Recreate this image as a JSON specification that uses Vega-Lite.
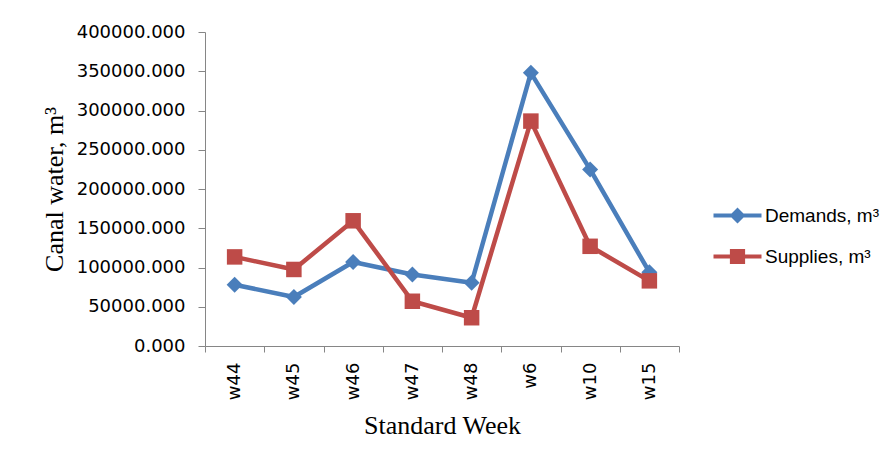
{
  "$schema": "https://vega.github.io/schema/vega-lite/v6.json",
  "width": 474,
  "height": 314,
  "autosize": {"type": "none"},
  "padding": {"left": 205, "top": 32, "right": 217, "bottom": 118},
  "background": "white",
  "config": {
    "view": {"stroke": null},
    "font": "DejaVu Sans"
  },
  "data": {
    "values": [
      {"week": "w44", "series": "Demands, m³", "value": 78000},
      {"week": "w45", "series": "Demands, m³", "value": 62500},
      {"week": "w46", "series": "Demands, m³", "value": 107000},
      {"week": "w47", "series": "Demands, m³", "value": 91000},
      {"week": "w48", "series": "Demands, m³", "value": 80500},
      {"week": "w6", "series": "Demands, m³", "value": 348000},
      {"week": "w10", "series": "Demands, m³", "value": 225000},
      {"week": "w15", "series": "Demands, m³", "value": 94000},
      {"week": "w44", "series": "Supplies, m³", "value": 113500},
      {"week": "w45", "series": "Supplies, m³", "value": 97500},
      {"week": "w46", "series": "Supplies, m³", "value": 159500},
      {"week": "w47", "series": "Supplies, m³", "value": 57000},
      {"week": "w48", "series": "Supplies, m³", "value": 36000},
      {"week": "w6", "series": "Supplies, m³", "value": 286500},
      {"week": "w10", "series": "Supplies, m³", "value": 127000},
      {"week": "w15", "series": "Supplies, m³", "value": 83000}
    ]
  },
  "encoding": {
    "x": {
      "field": "week",
      "type": "nominal",
      "sort": ["w44", "w45", "w46", "w47", "w48", "w6", "w10", "w15"],
      "scale": {"type": "band", "paddingInner": 0, "paddingOuter": 0},
      "bandPosition": 0.5,
      "axis": {
        "title": "Standard Week",
        "titleFont": "Liberation Serif",
        "titleFontSize": 26,
        "titleFontWeight": "normal",
        "titleColor": "#000000",
        "titleX": 237,
        "titleY": 87,
        "titleAlign": "center",
        "titleBaseline": "alphabetic",
        "tickBand": "extent",
        "labelAngle": 270,
        "labelAlign": "right",
        "labelBaseline": "middle",
        "labelFont": "DejaVu Sans",
        "labelFontSize": 18,
        "labelColor": "#000000",
        "labelPadding": 10,
        "tickSize": 6,
        "tickColor": "#868686",
        "domainColor": "#868686",
        "domainWidth": 1,
        "grid": false
      }
    },
    "y": {
      "field": "value",
      "type": "quantitative",
      "scale": {"domain": [0, 400000], "nice": false},
      "axis": {
        "title": "Canal water, m³",
        "titleFont": "Liberation Serif",
        "titleFontSize": 26,
        "titleFontWeight": "normal",
        "titleColor": "#000000",
        "titleAngle": 270,
        "titleX": -143,
        "titleY": 157,
        "titleAlign": "center",
        "titleBaseline": "alphabetic",
        "values": [0, 50000, 100000, 150000, 200000, 250000, 300000, 350000, 400000],
        "format": ".3f",
        "labelFont": "DejaVu Sans",
        "labelFontSize": 18,
        "labelColor": "#000000",
        "labelPadding": 13,
        "tickSize": 7,
        "tickColor": "#868686",
        "domainColor": "#868686",
        "grid": false
      }
    },
    "color": {
      "field": "series",
      "type": "nominal",
      "scale": {"domain": ["Demands, m³", "Supplies, m³"], "range": ["#4A7EBB", "#BE4B48"]},
      "legend": {
        "title": null,
        "orient": "none",
        "legendX": 523,
        "legendY": 174,
        "padding": 0,
        "symbolSize": 256,
        "labelOffset": 18,
        "labelFont": "Liberation Sans",
        "labelFontSize": 19,
        "labelColor": "#000000",
        "rowPadding": 21,
        "encode": {
          "symbols": {
            "update": {
              "shape": {"signal": "datum.value === 'Demands, m³' ? 'M-3,-0.25H-0.75L0,-1L0.75,-0.25H3V0.25H0.75L0,1L-0.75,0.25H-3Z' : 'M-3,-0.25H-0.95V-0.95H0.95V-0.25H3V0.25H0.95V0.95H-0.95V0.25H-3Z'"},
              "fill": {"scale": "color", "field": "value"},
              "stroke": {"value": "transparent"},
              "strokeWidth": {"value": 0},
              "opacity": {"value": 1}
            }
          }
        }
      }
    }
  },
  "layer": [
    {
      "mark": {"type": "line", "strokeWidth": 4.5, "strokeJoin": "round"}
    },
    {
      "transform": [{"filter": "datum.series === 'Demands, m³'"}],
      "mark": {"type": "point", "filled": true, "opacity": 1, "shape": "diamond", "size": 256}
    },
    {
      "transform": [{"filter": "datum.series === 'Supplies, m³'"}],
      "mark": {"type": "point", "filled": true, "opacity": 1, "shape": "square", "size": 240}
    }
  ]
}
